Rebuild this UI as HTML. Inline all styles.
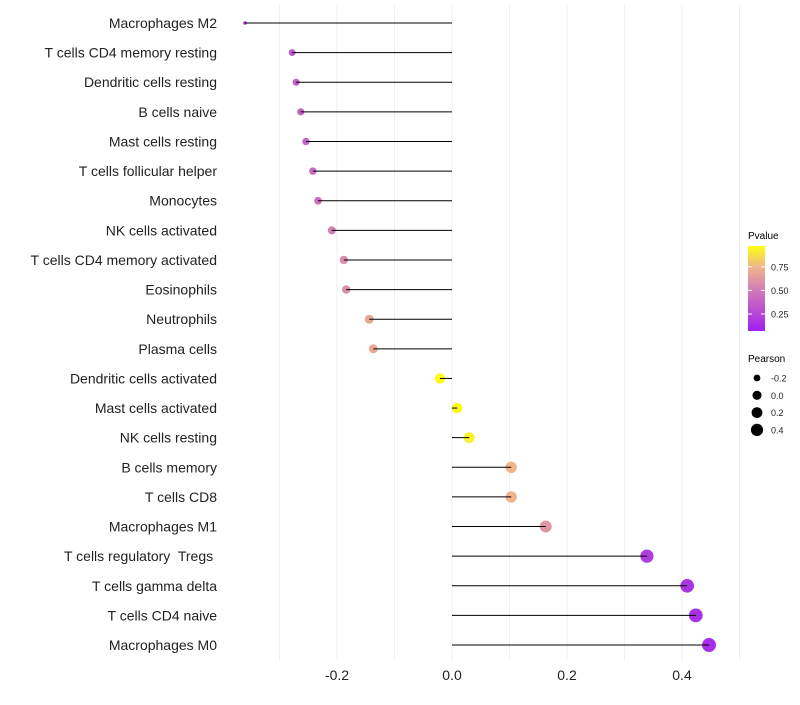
<!DOCTYPE html>
<html><head><meta charset="utf-8"><style>
body{margin:0;background:#fff;font-family:"Liberation Sans",Arial,sans-serif}
svg text{font-family:"Liberation Sans",Arial,sans-serif;white-space:pre}
</style></head><body>
<svg id="chart" width="800" height="700" xmlns="http://www.w3.org/2000/svg">
<defs><linearGradient id="pg" x1="0" y1="1" x2="0" y2="0">
<stop offset="0" stop-color="#a020f0"/><stop offset="0.5" stop-color="#d47fb4"/><stop offset="0.75" stop-color="#efb58c"/><stop offset="1" stop-color="#ffff10"/>
</linearGradient></defs>
<g id="grid"></g>
<g id="marks"></g>
<g id="ylab"></g>
<g id="xlab"></g>
<g>
<text x="748" y="239" font-size="10">Pvalue</text>
<rect x="748" y="246" width="17" height="85" fill="url(#pg)"/>
<g id="pticks"></g>
</g>
<g>
<text x="748" y="362" font-size="10">Pearson</text>
<g id="sleg"></g>
</g>
</svg>
<script>
const categories=["Macrophages M2","T cells CD4 memory resting","Dendritic cells resting","B cells naive","Mast cells resting","T cells follicular helper","Monocytes","NK cells activated","T cells CD4 memory activated","Eosinophils","Neutrophils","Plasma cells","Dendritic cells activated","Mast cells activated","NK cells resting","B cells memory","T cells CD8","Macrophages M1","T cells regulatory  Tregs ","T cells gamma delta","T cells CD4 naive","Macrophages M0"];
const pearson=[-0.36,-0.278,-0.271,-0.263,-0.254,-0.242,-0.233,-0.209,-0.188,-0.184,-0.144,-0.137,-0.021,0.009,0.030,0.103,0.103,0.163,0.339,0.409,0.424,0.447];
const pvalue=[0.08,0.3,0.32,0.34,0.36,0.4,0.42,0.5,0.56,0.57,0.68,0.69,0.98,0.98,0.95,0.75,0.75,0.6,0.15,0.1,0.09,0.07];
const xTicks=[-0.2,0.0,0.2,0.4];
const xTickLabels=["-0.2","0.0","0.2","0.4"];
const pTicks=[0.25,0.5,0.75];
const sizeTicks=[-0.2,0.0,0.2,0.4];
const NS="http://www.w3.org/2000/svg";
const X=v=>452+v*575, Y=i=>23+i*29.62;
const R=v=>1.8+Math.sqrt(Math.max(0,33*(v+0.36)));
const PY=p=>331-(p-0.07)/0.9*85;
function mk(t,a,p){const e=document.createElementNS(NS,t);for(const k in a)e.setAttribute(k,a[k]);p.appendChild(e);return e;}
function lerp(a,b,t){return a.map((x,i)=>Math.round(x+(b[i]-x)*t));}
const stops=[[0,[160,32,240]],[0.5,[212,127,180]],[0.75,[239,181,140]],[1,[255,255,16]]];
function col(p){for(let i=1;i<stops.length;i++){if(p<=stops[i][0]){const t=(p-stops[i-1][0])/(stops[i][0]-stops[i-1][0]);return "rgb("+lerp(stops[i-1][1],stops[i][1],t).join(",")+")";}}return "rgb(255,255,16)";}
const grid=document.getElementById('grid'),marks=document.getElementById('marks'),ylab=document.getElementById('ylab'),xlab=document.getElementById('xlab');
for(let v=-0.3;v<=0.55;v+=0.1){const g=mk('line',{x1:X(v),x2:X(v),y1:5,y2:660,stroke:'#efefef','stroke-width':1},grid);

}
xTicks.forEach((v,i)=>{const t=mk('text',{x:X(v),y:680,'font-size':14,'text-anchor':'middle',fill:'#222'},xlab);t.textContent=xTickLabels[i];

});
categories.forEach((c,i)=>{const y=Y(i);
const t=mk('text',{x:217,y:y+5,'font-size':14,'text-anchor':'end',fill:'#222'},ylab);t.textContent=c;


const d=mk('circle',{cx:X(pearson[i]),cy:y,r:R(pearson[i]),fill:col(pvalue[i])},marks);


const l=mk('line',{x1:X(0),x2:X(pearson[i]),y1:y,y2:y,stroke:'#000','stroke-width':1},marks);

});
const pt=document.getElementById('pticks');
pTicks.forEach(p=>{mk('line',{x1:748,x2:752,y1:PY(p),y2:PY(p),stroke:'#fff'},pt);mk('line',{x1:761,x2:765,y1:PY(p),y2:PY(p),stroke:'#fff'},pt);
const t=mk('text',{x:771,y:PY(p)+3.5,'font-size':9,fill:'#222'},pt);t.textContent=p.toFixed(2);

});
const sl=document.getElementById('sleg');
sizeTicks.forEach((v,i)=>{const y=378+i*17.3;mk('circle',{cx:757,cy:y,r:R(v)-0.7,fill:'#000'},sl);
const t=mk('text',{x:771,y:y+3.5,'font-size':9,fill:'#222'},sl);t.textContent=v.toFixed(1);

});
</script>
</body></html>
